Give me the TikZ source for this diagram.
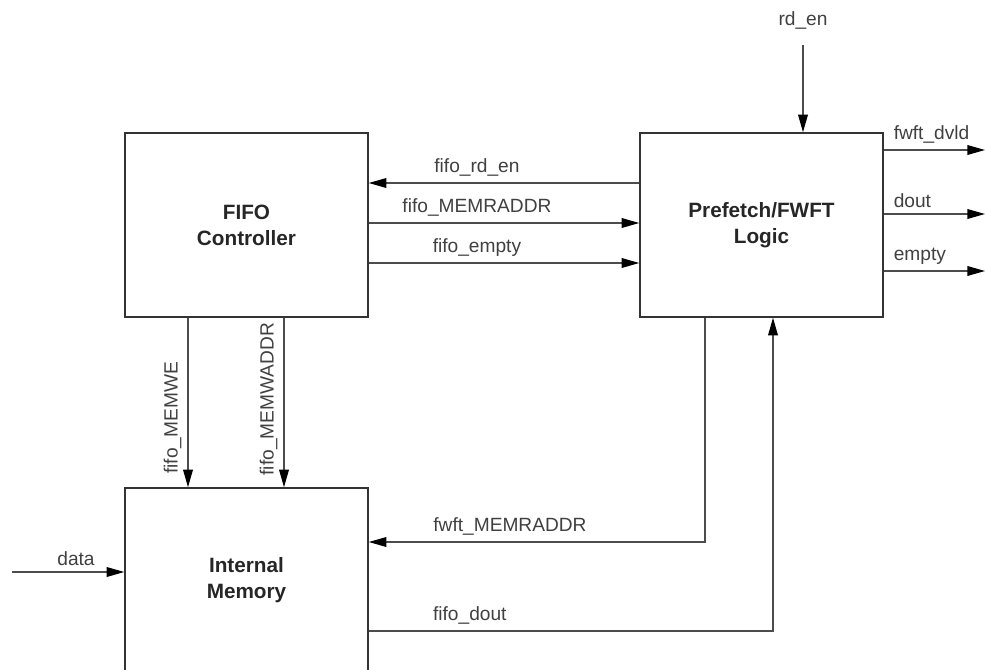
\documentclass[tikz,border=0pt]{standalone}
\usepackage{fontspec}
\setmainfont{Liberation Sans}
\usetikzlibrary{arrows.meta}

\begin{document}
\begin{tikzpicture}[x=0.02cm,y=-0.02cm,>={Triangle[length=10pt,width=5.5pt,black]}]
    \tikzstyle{block}=[draw=black!80,line width=0.85pt,minimum width=4.86cm,minimum height=3.68cm,align=center,text=black!85,font=\fontsize{11.8}{14.8}\selectfont\bfseries]
    \tikzstyle{sig}=[draw=black!70,line width=0.75pt]
    \tikzstyle{lab}=[text=black!75,font=\fontsize{10.9}{13}\selectfont]

    \clip (0,0) rectangle (985,670);

    \node[block] (ctrl) at (246.5,225) {FIFO\\Controller};
    \node[block] (pf) at (761.5,225) {Prefetch/FWFT\\Logic};
    \node[block] (mem) at (246.5,580) {Internal\\Memory};

        % controller <-> prefetch
        \foreach \y/\dir/\name in {183/<-/fifo\_rd\_en, 223/->/fifo\_MEMRADDR, 263/->/fifo\_empty}
            \draw[sig,\dir] (ctrl.east |- 0,\y) -- node[lab,above,pos=0.4] {\name} (pf.west |- 0,\y);

        % controller -> memory
        \foreach \x/\pos/\name in {188/0.59/fifo\_MEMWE, 284/0.48/fifo\_MEMWADDR}
            \draw[sig,->] (ctrl.south -| \x,0) -- node[lab,rotate=90,anchor=south,pos=\pos] {\name} (mem.north -| \x,0);

        % outputs
        \foreach \y/\name in {150/fwft\_dvld, 214/dout, 271/empty} {
            \coordinate (out-\y) at (985,\y);
            \draw[sig,->] (pf.east |- out-\y) -- node[lab,above right,pos=0,xshift=2pt] {\name} (out-\y);
        }

    \coordinate (rd) at (803,45);
    \draw[sig,->] (rd) node[lab,above,yshift=5pt] {rd\_en} -- (pf.north -| rd);

    \coordinate (din) at (12,572);
    \draw[sig,->] (din) -- node[lab,above,pos=0.57] {data} (mem.west |- din);

    \coordinate (c1) at (705,542);
    \draw[sig,->] (pf.south -| c1) -- (c1) -- node[lab,above,pos=0.58] {fwft\_MEMRADDR} (mem.east |- c1);

    \coordinate (c2) at (773,631);
    \draw[sig,->] (mem.east |- c2) -- node[lab,above,pos=0.25] {fifo\_dout} (c2) -- (pf.south -| c2);
\end{tikzpicture}
\end{document}
